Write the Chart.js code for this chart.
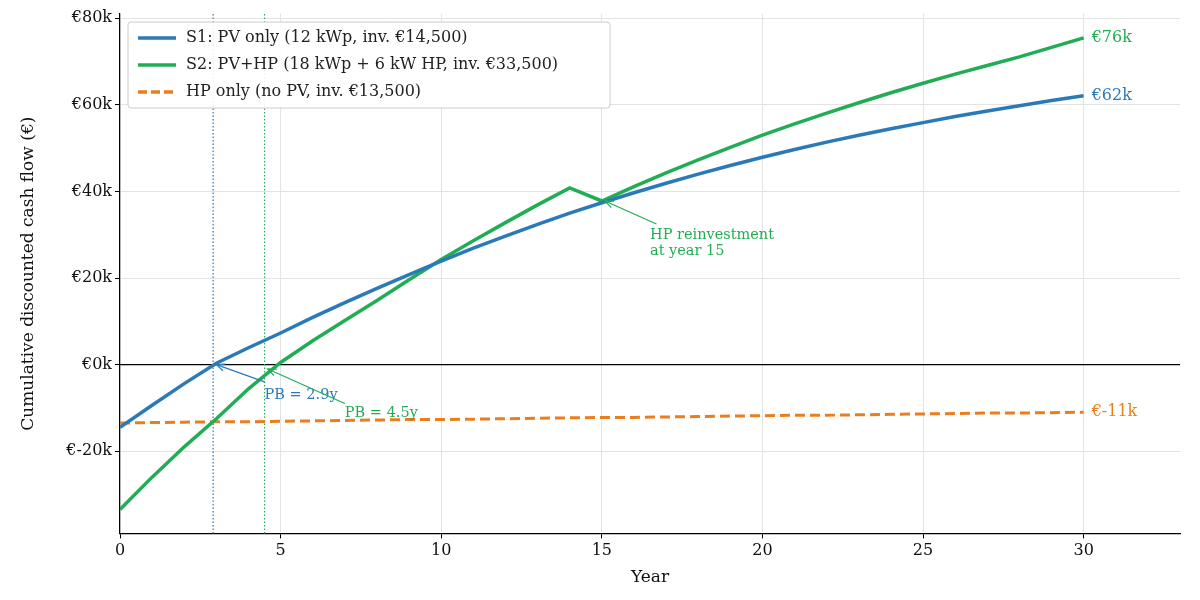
<!DOCTYPE html>
<html><head><meta charset="utf-8">
<script src="https://cdn.jsdelivr.net/npm/chart.js@4/dist/chart.umd.min.js"></script>
<style>body{margin:0;background:#fff}#w{width:1200px;height:600px}</style>
</head><body><div id="w"><canvas id="c"></canvas></div>
<script>
const years=[0,1,2,3,4,5,6,7,8,9,10,11,12,13,14,15,16,17,18,19,20,21,22,23,24,25,26,27,28,29,30];
const s1=[-14.5,-9.4,-4.4,0.3,3.9,7.3,10.9,14.3,17.6,20.8,23.9,26.9,29.7,32.4,35.0,37.4,39.7,41.9,44.0,46.0,47.9,49.7,51.4,53.0,54.5,55.9,57.3,58.6,59.8,61.0,62.1];
const s2=[-33.5,-26.0,-19.0,-12.5,-5.6,0.5,5.5,10.2,14.8,19.6,24.3,28.6,32.8,36.9,40.8,37.8,41.1,44.3,47.3,50.2,53.0,55.6,58.1,60.5,62.8,65.0,67.1,69.1,71.1,73.3,75.5];
const hp=[-13.5,-13.4,-13.3,-13.2,-13.2,-13.1,-13.0,-12.9,-12.8,-12.7,-12.7,-12.6,-12.5,-12.4,-12.3,-12.2,-12.2,-12.1,-12.0,-11.9,-11.8,-11.7,-11.7,-11.6,-11.5,-11.4,-11.3,-11.2,-11.2,-11.1,-11.0];
const xTicks=[0,5,10,15,20,25,30];
const yTicks=[-20,0,20,40,60,80];
const names=["S1: PV only (12 kWp, inv. €14,500)","S2: PV+HP (18 kWp + 6 kW HP, inv. €33,500)","HP only (no PV, inv. €13,500)"];
const endLabels=["€62k","€76k","€-11k"];
const payback=[2.9,4.5];
const C=["#2a7ab9","#22ad55","#eb7d1e"];
const F="DejaVu Serif";
const pts=a=>a.map((v,i)=>({x:years[i],y:v}));
const extra={id:'extra',
 beforeDatasetsDraw(ch){const {ctx,scales:{x,y},chartArea:a}=ch;ctx.save();
  ctx.strokeStyle='#000';ctx.lineWidth=1.2;ctx.beginPath();ctx.moveTo(a.left,y.getPixelForValue(0));ctx.lineTo(a.right,y.getPixelForValue(0));ctx.stroke();
  ctx.setLineDash([1.5,2]);ctx.lineWidth=1.2;
  payback.forEach((p,i)=>{ctx.strokeStyle=C[i];ctx.beginPath();ctx.moveTo(x.getPixelForValue(p),a.top);ctx.lineTo(x.getPixelForValue(p),a.bottom);ctx.stroke();});
  ctx.restore();},
 afterDatasetsDraw(ch){const {ctx,scales:{x,y},chartArea:a}=ch;ctx.save();
  ctx.font='16px '+F;ctx.textBaseline='middle';
  [s1,s2,hp].forEach((d,i)=>{ctx.fillStyle=C[i];ctx.fillText(endLabels[i],x.getPixelForValue(30)+8,y.getPixelForValue(d[30]));});
  function arrow(x1,y1,x2,y2,c){ctx.strokeStyle=c;ctx.lineWidth=1.2;ctx.beginPath();ctx.moveTo(x1,y1);ctx.lineTo(x2,y2);ctx.stroke();
   const an=Math.atan2(y2-y1,x2-x1);ctx.beginPath();ctx.moveTo(x2-9*Math.cos(an-0.4),y2-9*Math.sin(an-0.4));ctx.lineTo(x2,y2);ctx.lineTo(x2-9*Math.cos(an+0.4),y2-9*Math.sin(an+0.4));ctx.stroke();}
  ctx.font='14.5px '+F;ctx.textBaseline='alphabetic';
  arrow(x.getPixelForValue(4.5),y.getPixelForValue(-4),x.getPixelForValue(3.0),y.getPixelForValue(0),C[0]);
  ctx.fillStyle=C[0];ctx.fillText('PB = 2.9y',x.getPixelForValue(4.5),y.getPixelForValue(-8));
  arrow(x.getPixelForValue(7),y.getPixelForValue(-9),x.getPixelForValue(4.6),y.getPixelForValue(-1),C[1]);
  ctx.fillStyle=C[1];ctx.fillText('PB = 4.5y',x.getPixelForValue(7),y.getPixelForValue(-12));
  arrow(x.getPixelForValue(16.7),y.getPixelForValue(32.5),x.getPixelForValue(15.1),y.getPixelForValue(37.8),C[1]);
  ctx.fillText('HP reinvestment',x.getPixelForValue(16.5),y.getPixelForValue(29));
  ctx.fillText('at year 15',x.getPixelForValue(16.5),y.getPixelForValue(25.3));
  const lx=a.left+8,ly=a.top+8,w=482,h=86;ctx.fillStyle='rgba(255,255,255,0.9)';ctx.strokeStyle='#ccc';ctx.lineWidth=1;ctx.setLineDash([]);
  ctx.beginPath();ctx.roundRect(lx,ly,w,h,3);ctx.fill();ctx.stroke();
  ctx.font='16px '+F;ctx.textBaseline='middle';
  names.forEach((n,i)=>{const yy=ly+16+i*27;ctx.strokeStyle=C[i];ctx.lineWidth=3.5;ctx.setLineDash(i==2?[9,4]:[]);
   ctx.beginPath();ctx.moveTo(lx+10,yy);ctx.lineTo(lx+48,yy);ctx.stroke();ctx.fillStyle='#222';ctx.fillText(n,lx+58,yy);});
  ctx.restore();}
};
new Chart(document.getElementById('c'),{type:'line',
 data:{datasets:[
  {data:pts(s1),borderColor:C[0],borderWidth:3.5},
  {data:pts(s2),borderColor:C[1],borderWidth:3.5},
  {data:pts(hp),borderColor:C[2],borderWidth:3,borderDash:[10,5]}]},
 options:{responsive:true,maintainAspectRatio:false,animation:false,
  layout:{padding:{top:14,right:20,left:14,bottom:8}},
  elements:{point:{radius:0},line:{tension:0}},
  plugins:{legend:{display:false},tooltip:{enabled:false}},
  scales:{
   x:{type:'linear',min:0,max:33,afterBuildTicks:s=>{s.ticks=xTicks.map(v=>({value:v}))},
    grid:{color:'#e3e3e3',tickBorderDash:[5,4],tickLength:5,tickColor:'#000'},
    border:{color:'#000',width:1.2},
    ticks:{color:'#111',font:{family:F,size:16}},
    title:{display:true,text:'Year',color:'#111',font:{family:F,size:17}}},
   y:{min:-39,max:81,afterBuildTicks:s=>{s.ticks=yTicks.map(v=>({value:v}))},
    afterFit:s=>{s.width=106},
    grid:{color:'#e3e3e3',tickBorderDash:[5,4],tickColor:'#000',tickLength:5},
    border:{color:'#000',width:1.2},
    ticks:{color:'#111',font:{family:F,size:16},callback:v=>'€'+v+'k'},
    title:{display:true,text:'Cumulative discounted cash flow (€)',color:'#111',font:{family:F,size:17}}}
  }},
 plugins:[extra]});
</script></body></html>
